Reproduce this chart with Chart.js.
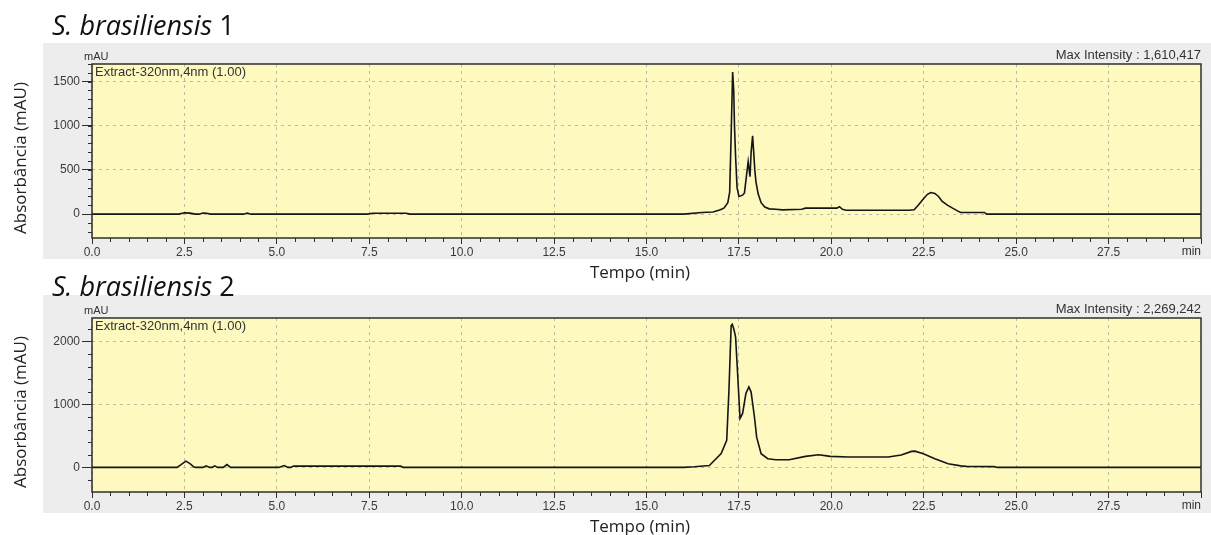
<!DOCTYPE html>
<html>
<head>
<meta charset="utf-8">
<script src="https://cdn.jsdelivr.net/npm/chart.js@4.4.0/dist/chart.umd.min.js"></script>
<style>
  body { margin: 0; background: #fff; }
  .box { position: absolute; left: 0; width: 1211px; }
  #b1 { top: 0; height: 285px; }
  #b2 { top: 265px; height: 270px; }
</style>
</head>
<body>
<div class="box" id="b1"><canvas id="c1"></canvas></div>
<div class="box" id="b2"><canvas id="c2"></canvas></div>
<script>
'use strict';
// retention time (min) and absorbance (mAU)
let time1 = [0, 2.35, 2.5, 2.65, 2.8, 2.9, 3.0, 3.1, 3.2, 4.1, 4.2, 4.3, 7.45, 7.6, 8.5, 8.6,
  16.0, 16.5, 16.8, 17.0, 17.1, 17.2, 17.25, 17.29, 17.33, 17.36, 17.38, 17.41, 17.45, 17.5,
  17.6, 17.65, 17.7, 17.75, 17.8, 17.83, 17.87, 17.9, 17.93, 17.96, 18.02, 18.1, 18.2, 18.32,
  18.5, 18.68, 19.2, 19.3, 20.15, 20.22, 20.3, 20.4, 22.1, 22.24, 22.35, 22.47, 22.6, 22.69,
  22.8, 22.9, 23.0, 23.15, 23.28, 23.4, 23.5, 24.14, 24.2, 30];
let abs1 = [0, 0, 15, 12, 0, 0, 12, 10, 0, 0, 12, 0, 0, 10, 10, 0,
  0, 18, 25, 49, 70, 130, 250, 900, 1610, 1400, 1000, 650, 300, 200,
  215, 240, 420, 595, 425, 700, 886, 700, 501, 369, 230, 130, 80, 60,
  55, 49, 55, 68, 68, 85, 55, 45, 45, 49, 100, 162, 225, 245,
  235, 200, 143, 100, 68, 40, 19, 19, 0, 0];

let time2 = [0, 2.3, 2.4, 2.54, 2.65, 2.75, 2.8, 3.0, 3.09, 3.18, 3.25, 3.32, 3.4, 3.55, 3.65,
  3.75, 5.05, 5.2, 5.3, 5.38, 5.45, 8.35, 8.42, 16.0, 16.3, 16.7, 17.02, 17.17, 17.23, 17.29,
  17.32, 17.36, 17.41, 17.47, 17.53, 17.6, 17.69, 17.77, 17.83, 17.92, 17.98, 18.1, 18.28, 18.5,
  18.86, 19.3, 19.66, 19.97, 20.46, 21.54, 21.89, 22.17, 22.26, 22.49, 22.8, 23.0, 23.16, 23.5,
  23.65, 24.4, 24.5, 30];
let abs2 = [0, 0, 40, 100, 60, 10, 0, 0, 25, 0, 0, 25, 0, 0, 45,
  0, 0, 30, 0, 0, 20, 20, 0, 0, 10, 30, 220, 430, 1220, 2250,
  2269, 2200, 2070, 1430, 777, 857, 1175, 1275, 1195, 800, 480, 217, 138, 122,
  122, 175, 200, 175, 164, 164, 198, 254, 258, 217, 138, 95, 58, 25,
  16, 12, 0, 0];

let xTicks = [0, 2.5, 5, 7.5, 10, 12.5, 15, 17.5, 20, 22.5, 25, 27.5];
let yTicks1 = [0, 500, 1000, 1500];
let yTicks2 = [0, 1000, 2000];
let titles = ['1', '2'];
let maxIntensity = ['1,610,417', '2,269,242'];

const sans = '"Liberation Sans", Arial, sans-serif';

let chromPlugin = {
  id: 'chrom',
  beforeDraw(chart, args, o) {
    let ctx = chart.ctx;
    let a = chart.chartArea;
    ctx.save();
    ctx.fillStyle = '#ededed';
    ctx.fillRect(43, o.panelTop, 1211 - 43, o.panelBottom - o.panelTop);
    ctx.fillStyle = '#fdf9bf';
    ctx.fillRect(a.left, a.top, a.right - a.left, a.bottom - a.top);
    ctx.restore();
  },
  afterDatasetsDraw(chart, args, o) {
    let ctx = chart.ctx;
    let a = chart.chartArea;
    let xs = chart.scales.x;
    let ys = chart.scales.y;
    ctx.save();
    ctx.strokeStyle = '#2e2e2e';
    ctx.lineWidth = 1.5;
    ctx.strokeRect(a.left, a.top, a.right - a.left, a.bottom - a.top);
    ctx.lineWidth = 1;
    ctx.beginPath();
    // minor ticks
    for (let t = 0.5; t < 30; t += 0.5) {
      if (Math.abs(t / 2.5 - Math.round(t / 2.5)) < 0.01) continue;
      let px = Math.round(xs.getPixelForValue(t)) + 0.5;
      ctx.moveTo(px, a.bottom);
      ctx.lineTo(px, a.bottom + 4);
    }
    let px30 = Math.round(xs.getPixelForValue(30)) + 0.5;
    ctx.moveTo(px30, a.bottom);
    ctx.lineTo(px30, a.bottom + 6);
    for (let v = Math.ceil(ys.min / o.minor) * o.minor; v <= ys.max; v += o.minor) {
      let py = Math.round(ys.getPixelForValue(v)) + 0.5;
      ctx.moveTo(a.left, py);
      ctx.lineTo(a.left - 4, py);
    }
    ctx.stroke();
    ctx.restore();
  },
  afterDraw(chart, args, o) {
    let ctx = chart.ctx;
    let a = chart.chartArea;
    ctx.save();
    ctx.fillStyle = '#111';
    ctx.textBaseline = 'alphabetic';
    ctx.font = 'italic 27px "Open Sans", sans-serif';
    ctx.fillText('S. brasiliensis', 52, o.titleY);
    let w = ctx.measureText('S. brasiliensis ').width;
    ctx.font = '27px "Open Sans", sans-serif';
    ctx.fillText(o.title, 52 + w, o.titleY);

    ctx.fillStyle = '#333';
    ctx.textBaseline = 'middle';
    ctx.textAlign = 'left';
    ctx.font = '11px ' + sans;
    ctx.fillText('mAU', 84, a.top - 7);
    ctx.font = '13px ' + sans;
    ctx.fillText('Extract-320nm,4nm (1.00)', a.left + 3, a.top + 8);
    ctx.textAlign = 'right';
    ctx.fillText('Max Intensity : ' + o.maxText, a.right, a.top - 9);
    ctx.font = '12px ' + sans;
    ctx.fillText('min', a.right, a.bottom + 14);

    ctx.fillStyle = '#222';
    ctx.font = '17px "Open Sans", sans-serif';
    ctx.textAlign = 'center';
    ctx.fillText('Tempo (min)', 640, o.xTitleY);
    ctx.translate(21, o.yTitleY);
    ctx.rotate(-Math.PI / 2);
    ctx.fillText('Absorbância (mAU)', 0, 0);
    ctx.restore();
  }
};

function makeChart(id, times, values, yTicks, yMin, yMax, extra) {
  let points = [];
  for (let i = 0; i < times.length; i++) {
    points.push({ x: times[i], y: values[i] });
  }
  return new Chart(document.getElementById(id), {
    type: 'line',
    data: {
      datasets: [{
        data: points,
        borderColor: '#151515',
        borderWidth: 1.6,
        pointRadius: 0,
        tension: 0,
        fill: false
      }]
    },
    plugins: [chromPlugin],
    options: {
      responsive: true,
      maintainAspectRatio: false,
      animation: false,
      layout: { padding: { top: extra.padTop, right: 10, left: 0, bottom: 0 } },
      plugins: {
        legend: { display: false },
        tooltip: { enabled: false },
        chrom: extra
      },
      scales: {
        x: {
          type: 'linear',
          min: 0,
          max: 30,
          afterBuildTicks: s => { s.ticks = xTicks.map(v => ({ value: v })); },
          afterFit: s => { s.height = extra.xHeight; s.paddingLeft = 0; s.paddingRight = 0; },
          ticks: {
            autoSkip: false,
            maxRotation: 0,
            padding: 1,
            color: '#3a3a3a',
            font: { family: sans, size: 12 },
            callback: v => v.toFixed(1)
          },
          grid: { color: '#bdbb9f', lineWidth: 1, tickColor: '#2e2e2e', tickLength: 6 },
          border: { display: false, dash: [3, 4] }
        },
        y: {
          min: yMin,
          max: yMax,
          afterBuildTicks: s => { s.ticks = yTicks.map(v => ({ value: v })); },
          afterFit: s => { s.width = 92; s.paddingTop = 0; s.paddingBottom = 0; },
          ticks: {
            padding: 2,
            color: '#3a3a3a',
            font: { family: sans, size: 12 },
            callback: v => String(v)
          },
          grid: { color: '#bdbb9f', lineWidth: 1, tickColor: '#2e2e2e', tickLength: 10 },
          border: { display: false, dash: [3, 4] }
        }
      }
    }
  });
}

makeChart('c1', time1, abs1, yTicks1, -270, 1700, {
  padTop: 64, xHeight: 47, panelTop: 43, panelBottom: 259,
  minor: 100, title: titles[0], maxText: maxIntensity[0],
  titleY: 35, xTitleY: 273, yTitleY: 158
});
makeChart('c2', time2, abs2, yTicks2, -390, 2370, {
  padTop: 53, xHeight: 43, panelTop: 30, panelBottom: 248,
  minor: 200, title: titles[1], maxText: maxIntensity[1],
  titleY: 31, xTitleY: 262, yTitleY: 147
});
</script>
</body>
</html>
